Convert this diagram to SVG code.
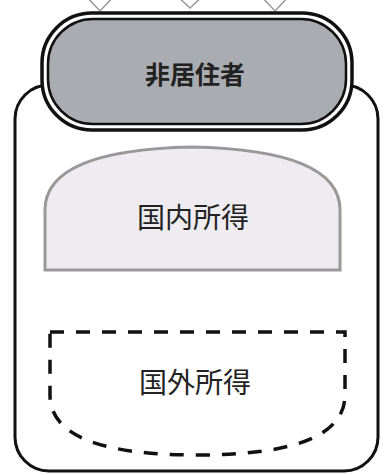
<svg xmlns="http://www.w3.org/2000/svg" width="385" height="475" viewBox="0 0 385 475">
<style>
.lbl{font-family:"Noto Sans CJK JP","Noto Sans CJK SC",sans-serif;text-anchor:middle;fill:#222}
.tri{fill:#fff;stroke:#999;stroke-width:1.5}
</style>
<rect width="385" height="475" fill="#fff"/>
<g id="connectors">
<polygon class="tri" points="84,-6 116,-6 100,11"/>
<polygon class="tri" points="175,-6 205,-6 190,8"/>
<polygon class="tri" points="259,-6 291,-6 275,11"/>
</g>
<g id="container">
<rect x="15" y="85" width="363" height="386" rx="34" ry="34" fill="#fff" stroke="#111" stroke-width="3"/>
</g>
<g id="nonresident">
<rect x="42" y="13" width="310" height="117" rx="50" ry="50" fill="#fff" stroke="#111" stroke-width="3.5"/>
<rect x="48" y="19" width="298" height="105" rx="45" ry="45" fill="#a9acb1" stroke="#111" stroke-width="2.5"/>
<text class="lbl" x="195" y="84" font-size="25" font-weight="bold">非居住者</text>
</g>
<g id="domestic">
<path d="M45,270 L45,210 Q45,150 192,147 Q340,150 340,210 L340,270 Z" fill="#eeecf1" stroke="#999" stroke-width="3"/>
<text class="lbl" x="193" y="228" font-size="28">国内所得</text>
</g>
<g id="foreign">
<path d="M50,332 L345,332 L345,395 Q345,455 197,455 Q50,455 50,395 Z" fill="none" stroke="#111" stroke-width="3.5" stroke-dasharray="14,12"/>
<text class="lbl" x="195" y="393" font-size="28">国外所得</text>
</g>
</svg>
